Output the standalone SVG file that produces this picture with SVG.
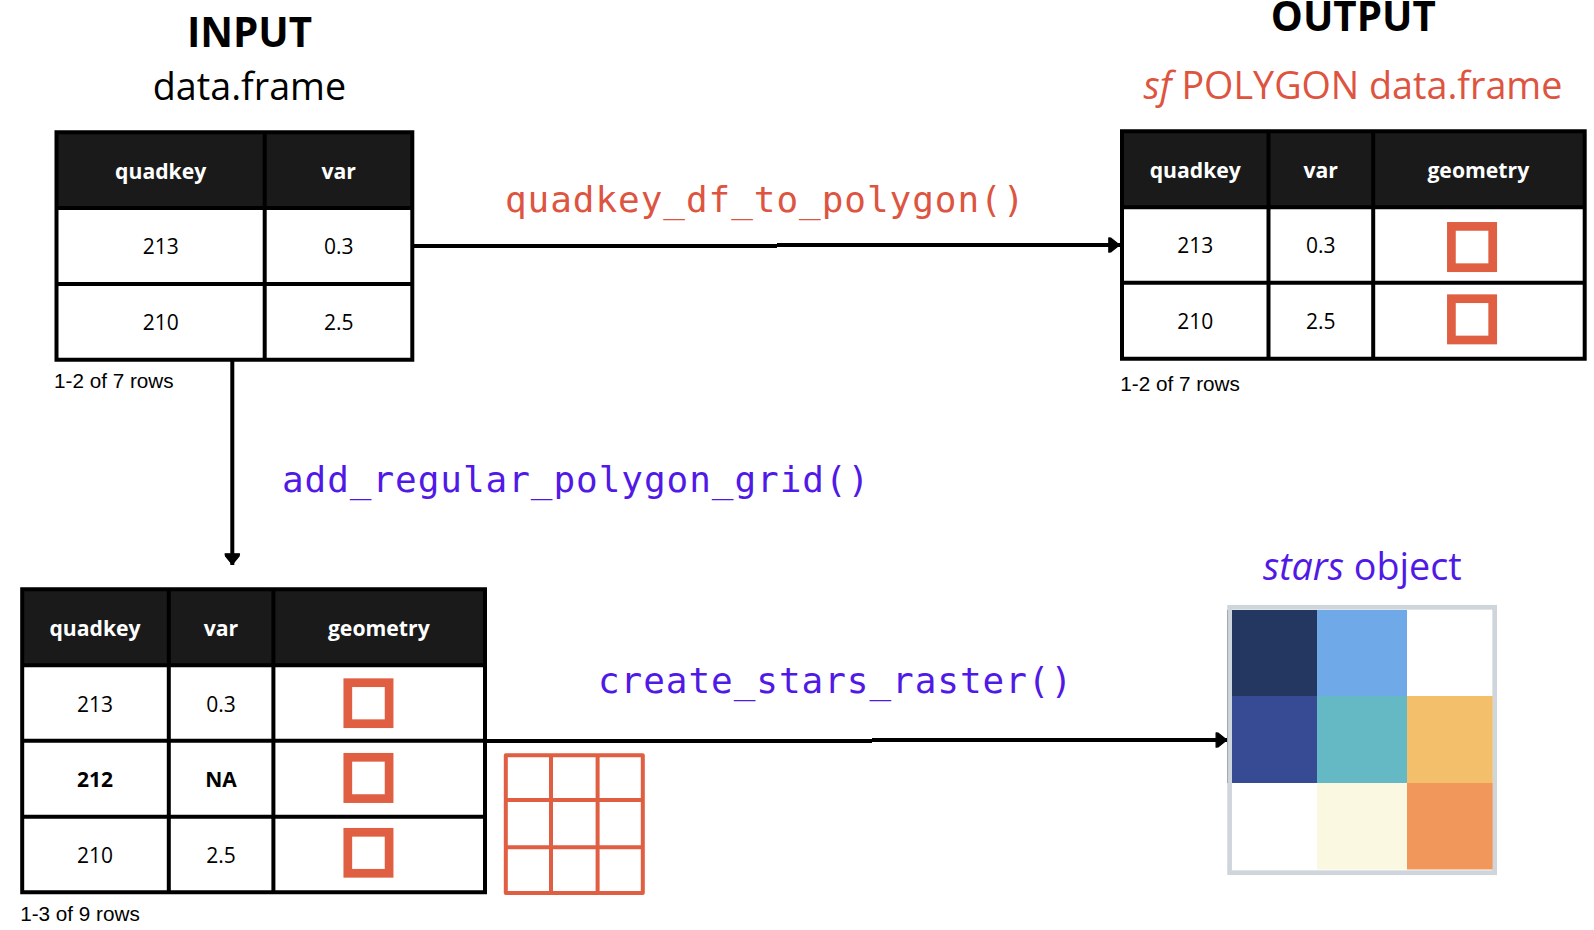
<svg xmlns="http://www.w3.org/2000/svg" width="1594" height="930" viewBox="0 0 1594 930">
<defs>
<marker id="ah" markerUnits="userSpaceOnUse" markerWidth="14" markerHeight="18" refX="12" refY="8" orient="auto" overflow="visible"><path d="M0.8 0.8L3 1.2L11.4 8L3 14.8L0.8 15.2Z" fill="#000" stroke="#000" stroke-width="1.2" stroke-linejoin="round"/></marker>
</defs>
<style>
text{font-family:"Open Sans","Noto Sans","Liberation Sans",sans-serif}
.bg{fill:#fff}
.hd{fill:#1a1a1a}
.ln{fill:none;stroke:#000;stroke-width:4}
.th{font-size:21.2px;font-weight:700;fill:#fff;text-anchor:middle}
.td{font-size:21px;fill:#000;text-anchor:middle}
.b{font-weight:700}
.note{font-family:"Liberation Sans",Arial,sans-serif;font-size:20.7px;fill:#000}
.h1{font-size:40.3px;font-weight:700;fill:#000;text-anchor:middle}
.h2{font-size:37.7px;text-anchor:middle}
.code{font-family:"DejaVu Sans Mono","Liberation Mono",monospace;font-size:36px;letter-spacing:.95px}
.red{fill:#dd5440}
.pur{fill:#5119e6}
.sq{fill:#fff;stroke:#e05e41;stroke-width:8.7}
.grid{fill:none;stroke:#e05e41;stroke-width:4;stroke-linejoin:round}
.con{fill:none;stroke:#000;stroke-width:4;marker-end:url(#ah)}
</style>
<rect width="1594" height="930" fill="#fff"/>

<g id="title-input">
<text class="h1" x="249.5" y="47">INPUT</text>
<text class="h2" x="249.5" y="100.2" fill="#000">data.frame</text>
</g>
<g id="title-output">
<text class="h1" x="1353.3" y="31">OUTPUT</text>
<text class="h2 red" x="1353" y="99.2"><tspan font-style="italic">sf</tspan> POLYGON data.frame</text>
</g>

<g id="connectors">
<path class="con" d="M414 245.9H777M777 245H1120"/>
<path class="con" d="M232.3 361V565"/>
<path class="con" d="M487 740.9H872M872 740H1227.3"/>
</g>

<g id="table-input">
<rect class="hd" x="56.5" y="132.3" width="355.8" height="75.7"/>
<rect class="bg" x="56.5" y="208" width="355.8" height="151.7"/>
<path class="ln" d="M56.5 132.3H412.3V359.7H56.5ZM264.7 132.3V359.7M56.5 208H412.3M56.5 284H412.3"/>
<text class="th" x="160.7" y="179">quadkey</text>
<text class="th" x="338.7" y="179">var</text>
<text class="td" x="160.7" y="254.3">213</text>
<text class="td" x="338.7" y="254.3">0.3</text>
<text class="td" x="160.7" y="330">210</text>
<text class="td" x="338.7" y="330">2.5</text>
<text class="note" x="54" y="387.7">1-2 of 7 rows</text>
</g>

<g id="table-output">
<rect class="hd" x="1122" y="131.3" width="462.7" height="75.9"/>
<rect class="bg" x="1122" y="207.2" width="462.7" height="151.5"/>
<path class="ln" d="M1122 131.3H1584.7V358.7H1122ZM1268.5 131.3V358.7M1373.2 131.3V358.7M1122 207.2H1584.7M1122 282.8H1584.7"/>
<text class="th" x="1195.3" y="178">quadkey</text>
<text class="th" x="1320.7" y="178">var</text>
<text class="th" x="1478.3" y="178">geometry</text>
<text class="td" x="1195.3" y="253.3">213</text>
<text class="td" x="1320.7" y="253.3">0.3</text>
<text class="td" x="1195.3" y="329">210</text>
<text class="td" x="1320.7" y="329">2.5</text>
<rect class="sq" x="1451.4" y="226.4" width="41.3" height="41.3"/>
<rect class="sq" x="1451.4" y="298.7" width="41.3" height="41.3"/>
<text class="note" x="1120.3" y="390.7">1-2 of 7 rows</text>
</g>

<g id="table-grid">
<rect class="hd" x="22.2" y="589.3" width="462.8" height="75.9"/>
<rect class="bg" x="22.2" y="665.2" width="462.8" height="227.1"/>
<path class="ln" d="M22.2 589.3H485V892.3H22.2ZM168.8 589.3V892.3M273.4 589.3V892.3M22.2 665.2H485M22.2 740.8H485M22.2 816.8H485"/>
<text class="th" x="95" y="636">quadkey</text>
<text class="th" x="221" y="636">var</text>
<text class="th" x="378.8" y="636">geometry</text>
<text class="td" x="95" y="712">213</text>
<text class="td" x="221" y="712">0.3</text>
<text class="td b" x="95" y="787">212</text>
<text class="td b" x="221" y="787">NA</text>
<text class="td" x="95" y="862.7">210</text>
<text class="td" x="221" y="862.7">2.5</text>
<rect class="sq" x="347.8" y="682.7" width="41.3" height="41"/>
<rect class="sq" x="347.8" y="757.3" width="41.3" height="41.3"/>
<rect class="sq" x="347.8" y="832.3" width="41.3" height="41"/>
<text class="note" x="20.2" y="920.7">1-3 of 9 rows</text>
</g>

<g id="grid-icon">
<path class="grid" d="M505.8 755.3H642.8V893H505.8ZM551 755.3V893M597.6 755.3V893M505.8 800H642.8M505.8 847.3H642.8"/>
</g>

<g id="stars-object">
<text class="h2 pur" x="1362.3" y="580"><tspan font-style="italic">stars</tspan> object</text>
<rect x="1229.6" y="607.3" width="265.1" height="265.4" fill="#fff" stroke="#cfd6db" stroke-width="4.7"/>
<path d="M1227.6 610V783" stroke="#9aa5b5" stroke-width="1" fill="none"/>
<rect x="1232" y="610" width="85" height="86" fill="#243760"/>
<rect x="1317" y="610" width="90" height="86" fill="#70a9e8"/>
<rect x="1232" y="696" width="85" height="87" fill="#374a94"/>
<rect x="1317" y="696" width="90" height="87" fill="#64b9c4"/>
<rect x="1407" y="696" width="85.7" height="87" fill="#f4bf6a"/>
<rect x="1317" y="783" width="90" height="86.5" fill="#fbf8e1"/>
<rect x="1407" y="783" width="85.7" height="86.5" fill="#f2975b"/>
</g>

<g id="labels">
<text class="code red" x="505" y="211.7">quadkey_df_to_polygon()</text>
<text class="code pur" x="282" y="492.3">add_regular_polygon_grid()</text>
<text class="code pur" x="598" y="693">create_stars_raster()</text>
</g>
</svg>
